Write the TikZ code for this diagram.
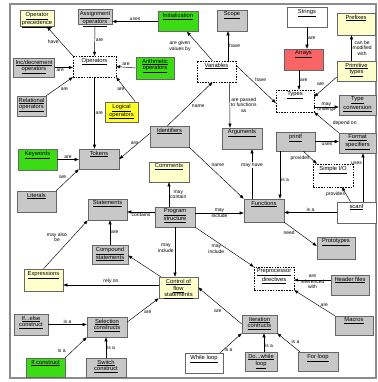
\documentclass[tikz,border=0pt]{standalone}
\usepackage{fontspec}
\setmainfont{Liberation Sans}
\usetikzlibrary{arrows.meta}

\definecolor{cgray}{RGB}{200,200,200}
\definecolor{cyel}{RGB}{255,255,204}
\definecolor{cgreen}{RGB}{60,220,20}
\definecolor{cbright}{RGB}{255,255,40}
\definecolor{cred}{RGB}{250,100,100}
\definecolor{cframe}{RGB}{140,140,140}

\newcommand\lnk[1]{\underline{#1}}

\tikzset{
  box/.style={draw=black!60, line width=0.6pt, inner sep=0pt},
  graybox/.style={box, fill=cgray},
  yelbox/.style={box, fill=cyel},
  greenbox/.style={box, fill=cgreen},
  brightbox/.style={box, fill=cbright},
  redbox/.style={box, fill=cred},
  whitebox/.style={box, fill=white},
  dashbox/.style={draw=black, line width=0.4pt, dash pattern=on 1.5pt off 1.2pt, fill=white, inner sep=0pt},
  ctext/.style={font=\fontsize{5.8}{6.2}\selectfont, align=center, inner sep=0pt},
  lbl/.style={font=\fontsize{5}{5.6}\selectfont, align=center, inner sep=1pt, text=black},
  arr/.style={line width=0.45pt, -{Triangle[length=4pt,width=3pt]}},
}

% concept box: style, name, x, y, width, height, text (text sits near the top)
\newcommand\concept[7]{%
  \node[#1, minimum width=#5pt, minimum height=#6pt] (#2) at (#3,#4) {};
  \node[ctext, anchor=north] (#2-t) at ([yshift=-2pt]#2.north) {#7};
}

\begin{document}
\begin{tikzpicture}[x=1pt,y=-1pt]
\useasboundingbox (0,0) rectangle (377,382);
\draw[cframe, line width=1.6pt] (10,4) rectangle (376,378);

% concepts
\concept{yelbox}{opprec}{37}{18.5}{34}{16}{\lnk{Operator}\\\lnk{precedence}}
\concept{graybox}{assign}{95}{17}{34}{15}{\lnk{Assignment}\\\lnk{operators}}
\concept{greenbox}{init}{178}{21.5}{40}{20}{\lnk{Initialization}}
\concept{graybox}{scope}{232}{20.5}{30}{21}{\lnk{Scope}}
\concept{whitebox}{strings}{307}{17}{40}{20}{\lnk{Strings}}
\concept{yelbox}{prefixes}{356}{24}{38}{22}{\lnk{Prefixes}}
\concept{dashbox}{operators}{94.5}{66.5}{43}{21}{\lnk{Operators}}
\concept{graybox}{incdec}{34}{67.5}{41}{19}{\lnk{Inc/decrement}\\\lnk{operators}}
\concept{greenbox}{arith}{155}{68}{38}{22}{\lnk{Arithmetic}\\\lnk{operators}}
\concept{dashbox}{variables}{216.5}{71.5}{39}{21}{\lnk{Variables}}
\concept{redbox}{arrays}{303.5}{59.5}{39}{21}{\lnk{Arrays}}
\concept{yelbox}{primitive}{356.5}{71}{39}{20}{\lnk{Primitive}\\\lnk{types}}
\concept{dashbox}{types}{295}{101}{38}{22}{\lnk{Types}}
\concept{graybox}{typeconv}{357.5}{105}{37}{20}{\lnk{Type}\\\lnk{conversion}}
\concept{graybox}{relational}{31.5}{106}{29}{20}{\lnk{Relational}\\\lnk{operators}}
\concept{brightbox}{logical}{121.5}{112}{33}{20}{\lnk{Logical}\\\lnk{operators}}
\concept{graybox}{identifiers}{169.5}{136.5}{39}{21}{\lnk{Identifiers}}
\concept{graybox}{arguments}{242}{138.5}{40}{21}{\lnk{Arguments}}
\concept{graybox}{printf}{295.5}{141.5}{39}{19}{\lnk{printf}}
\concept{graybox}{formatspec}{357.5}{143}{37}{20}{\lnk{Format}\\\lnk{specifiers}}
\concept{greenbox}{keywords}{37.5}{159.5}{39}{21}{\lnk{Keywords}}
\concept{graybox}{tokens}{99}{159}{40}{20}{\lnk{Tokens}}
\concept{yelbox}{comments}{169}{172}{40}{20}{\lnk{Comments}}
\concept{dashbox}{simpleio}{333}{175.5}{40}{23}{\lnk{Simple I/O}}
\concept{graybox}{literals}{36.5}{201.5}{39}{21}{\lnk{Literals}}
\concept{graybox}{statements}{107.5}{209.5}{39}{21}{\lnk{Statements}}
\concept{graybox}{progstruct}{175}{217}{40}{20}{\lnk{Program}\\\lnk{structure}}
\concept{graybox}{functions}{264}{210.5}{40}{23}{\lnk{Functions}}
\concept{whitebox}{scanf}{356.5}{212.5}{39}{21}{\lnk{scanf}}
\concept{graybox}{prototypes}{336}{248}{38}{22}{\lnk{Prototypes}}
\concept{graybox}{compound}{110}{254.5}{36}{19}{\lnk{Compound}\\\lnk{statements}}
\concept{dashbox}{preproc}{274}{278.5}{40}{23}{\lnk{Preprocessor}\\\lnk{directives}}
\concept{graybox}{headerfiles}{350}{285}{38}{20}{\lnk{Header files}}
\concept{yelbox}{expressions}{43.5}{280}{39}{22}{\lnk{Expressions}}
\concept{yelbox}{controlflow}{178.5}{287.5}{39}{21}{\lnk{Control of}\\\lnk{flow}\\\lnk{statements}}
\concept{graybox}{ifelse}{31}{324.5}{34}{21}{\lnk{If...else}\\\lnk{construct}}
\concept{graybox}{selection}{107}{327}{40}{20}{\lnk{Selection}\\\lnk{constructs}}
\concept{graybox}{iteration}{259.5}{324}{35}{18}{\lnk{Iteration}\\\lnk{contructs}}
\concept{graybox}{macros}{354}{325.5}{38}{19}{\lnk{Macros}}
\concept{greenbox}{ifc}{45.5}{367.5}{39}{19}{\lnk{If construct}}
\concept{graybox}{switch}{106}{367.5}{40}{19}{\lnk{Switch}\\\lnk{construct}}
\concept{whitebox}{while}{204}{363}{38}{20}{\lnk{While loop}}
\concept{graybox}{dowhile}{261}{361.5}{32}{19}{\lnk{Do...while}\\\lnk{loop}}
\concept{graybox}{forloop}{318}{361.5}{40}{19}{\lnk{For loop}}

% links
\draw[arr] (assign.south) -- (operators.north) node[lbl, midway, right] {are};
\draw[arr] (operators.north west) -- ([xshift=10pt]opprec.south) node[lbl, midway, left] {have};
\draw[arr] (incdec.east) -- (incdec.east -| operators.west) node[lbl, pos=0.3, below] {are};
\draw[arr] (relational.north east) -- (operators.south west) node[lbl, midway, below right] {are};
\draw[arr] (arith.west) -- (operators.east) node[lbl, midway, above] {are};
\draw[arr] ([xshift=-3pt]logical.north east) -- (operators.south east) node[lbl, midway, left] {are};
\draw[arr] (operators.south) -- (operators.south |- tokens.north) node[lbl, midway, right] {are};
\draw[arr] (keywords.east) -- (keywords.east -| tokens.west) node[lbl, midway, above] {are};
\draw[arr] (literals.north east) -- (tokens.south west) node[lbl, midway, above left] {are};
\draw[arr] ([yshift=3pt]identifiers.west) -- (tokens.east) node[lbl, midway, above] {are};

\draw[arr] (init.west) -- (init.west -| assign.east) node[lbl, midway, above] {uses};
\draw[arr] ([xshift=-4pt]variables.north) -- ([xshift=9pt]init.south) node[lbl, midway, left=8pt] {are given\\values by};
\draw[arr] ([xshift=11.5pt]variables.north) -- ([xshift=-4pt]scope.south) node[lbl, midway, right] {have};
\draw[arr] ([xshift=-2pt]identifiers.north) -- ([xshift=-4pt]variables.south) node[lbl, pos=0.45, right=3pt] {name};
\draw[arr] ([yshift=6pt]variables.east) -- ([yshift=-2pt]types.west) node[lbl, pos=0.45, above right=0pt] {have};
\draw[arr] ([xshift=13pt]variables.south) -- ([xshift=-12pt]arguments.north) node[lbl, midway, right] {are passed\\to functions\\as};

\draw[arr] ([xshift=-4.5pt]arrays.south) -- ([xshift=4pt]types.north) node[lbl, midway, right] {are};
\draw[arr] (strings.south) -- (strings.south |- arrays.north) node[lbl, midway, right] {are};
\draw[arr] ([xshift=-5pt]primitive.north) -- ([xshift=-4.5pt]prefixes.south) node[lbl, midway, right] {can be\\modified\\with};
\draw[arr] ([yshift=-6pt]primitive.west) -- ([yshift=-7pt]types.north east) node[lbl, midway, above left=0pt] {are};
\draw[arr] ([yshift=-6pt]types.east) -- ([yshift=-2pt]typeconv.west) node[lbl, midway] {may\\undergo};
\draw[arr] (formatspec.north west) -- (types.south east) node[lbl, pos=0.45, right=4pt] {depend on};

\draw[arr] (printf.east) -- (printf.east -| formatspec.west) node[lbl, midway, below] {uses};
\draw[arr] ([xshift=6.5pt]scanf.north) -- ([xshift=5.5pt]formatspec.south) node[lbl, pos=0.8, left] {uses};
\draw[arr] ([xshift=8pt]printf.south) -- ([xshift=4pt]simpleio.north west) node[lbl, pos=0.55, left] {provides};
\draw[arr] ([xshift=-6pt]scanf.north) -- ([xshift=9pt]simpleio.south) node[lbl, midway, left] {provides};
\draw[arr] ([xshift=-15.5pt]printf.south) -- ([xshift=16pt]functions.north) node[lbl, pos=0.6, right] {is a};
\draw[arr] (scanf.west) -- (scanf.west -| functions.east) node[lbl, midway, above] {is a};
\draw[arr] ([xshift=-12pt]functions.north) -- ([xshift=10pt]arguments.south) node[lbl, pos=0.68, fill=white, inner sep=0.5pt] {may have};
\draw[arr] (identifiers.south east) -- (functions.north west) node[lbl, pos=0.35, right=2pt] {name};

\draw[arr] ([xshift=-6pt]progstruct.north) -- (comments.south) node[lbl, midway, right] {may\\contain};
\draw[arr] ([yshift=5pt]progstruct.west) -- ([yshift=-2.5pt]statements.east) node[lbl, midway, below, inner sep=0.5pt] {contains};
\draw[arr] ([yshift=4pt]progstruct.east) -- ([yshift=-2.5pt]functions.west) node[lbl, midway] {may\\include};
\draw[arr] (progstruct.south) -- (progstruct.south |- controlflow.north) node[lbl, pos=0.42, left] {may\\include};
\draw[arr] (progstruct.south east) -- (preproc.north west) node[lbl, pos=0.55, left=2pt] {may\\include};
\draw[arr] (functions.south east) -- ([yshift=2pt]prototypes.west) node[lbl, pos=0.42, left=2pt] {need};

\draw[arr] (compound.north) -- (compound.north |- statements.south) node[lbl, midway, right] {are};
\draw[arr] (expressions.north) -- (statements.south west) node[lbl, pos=0.65, left=4pt] {may also\\be};
\draw[arr] ([yshift=2.5pt]controlflow.west) -- ([yshift=-5pt]expressions.east) node[lbl, midway, above] {rely on};
\draw[arr] ([xshift=2pt]controlflow.north west) -- ([yshift=-1pt]compound.east);
\draw[arr] ([yshift=5pt]selection.east) -- (controlflow.south west) node[lbl, pos=0.4, right=3pt] {are};
\draw[arr] (iteration.west) -- (controlflow.east) node[lbl, pos=0.35, left=4pt] {are};

\draw[arr] (ifelse.east) -- (ifelse.east -| selection.west) node[lbl, midway, above] {is a};
\draw[arr] (ifc.north east) -- (selection.south west) node[lbl, pos=0.35, left=6pt] {is a};
\draw[arr] (switch.north) -- (switch.north |- selection.south) node[lbl, midway, right] {is a};
\draw[arr] ([xshift=-3pt]while.north east) -- (iteration.south west) node[lbl, pos=0.15, right=0pt] {is a};
\draw[arr] ([xshift=3pt]dowhile.north) -- ([xshift=4.5pt]iteration.south) node[lbl, pos=0.3, right] {is a};
\draw[arr] ([xshift=2pt]forloop.north west) -- (iteration.south east) node[lbl, pos=0.55, right=3pt] {is a};
\draw[arr] ([yshift=5pt]headerfiles.west) -- ([yshift=-1.5pt]preproc.east) node[lbl, midway, yshift=-2pt] {are\\referenced\\with};
\draw[arr] (macros.north west) -- (preproc.south east) node[lbl, pos=0.4, right=1pt] {are};
\end{tikzpicture}
\end{document}
